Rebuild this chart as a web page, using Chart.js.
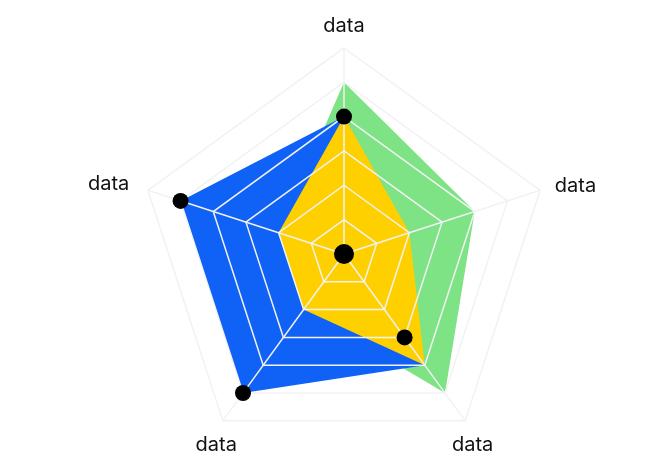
<!DOCTYPE html>
<html>
<head>
<meta charset="utf-8">
<script src="https://cdn.jsdelivr.net/npm/chart.js@4/dist/chart.umd.min.js"></script>
<style>
  html, body { margin: 0; padding: 0; background: #fff; overflow: hidden; }
  #wrap { width: 660px; height: 498px; position: relative; }
</style>
</head>
<body>
<div id="wrap"><canvas id="radarChart"></canvas></div>
<script>
const labels = ['data', 'data', 'data', 'data', 'data'];
const yellowValues = [4, 2, 4, 2, 2];
const blueValues = [4, 1, 4, 5, 5];
const greenValues = [5, 4, 5, 2, 2];
const dotValues = [4, 0, 3, 5, 5];
const dotSizes = [8, 10, 8, 8, 8];

// per-label nudges so the axis titles sit where the original has them
const labelPadding = [22, 15.5, -22.5, -24, 19.5];
const labelLineHeight = ['0px', '0px', '85px', '88px', '0px'];

const ctx = document.getElementById('radarChart').getContext('2d');
const chart = new Chart(ctx, {
    type: 'radar',
    data: {
        labels: labels,
        datasets: [
            {
                label: 'dots',
                data: dotValues,
                showLine: false,
                fill: false,
                pointRadius: dotSizes,
                pointHoverRadius: dotSizes,
                pointBackgroundColor: '#000',
                pointBorderWidth: 0
            },
            {
                label: 'yellow',
                data: yellowValues,
                fill: true,
                backgroundColor: '#ffd000',
                borderWidth: 0,
                pointRadius: 0
            },
            {
                label: 'blue',
                data: blueValues,
                fill: true,
                backgroundColor: '#0f62f5',
                borderWidth: 0,
                pointRadius: 0
            },
            {
                label: 'green',
                data: greenValues,
                fill: true,
                backgroundColor: '#7de384',
                borderWidth: 0,
                pointRadius: 0
            }
        ]
    },
    options: {
        responsive: true,
        maintainAspectRatio: false,
        animation: false,
        layout: {
            padding: { left: 86, right: 61, top: 18, bottom: 0 }
        },
        plugins: {
            legend: { display: false },
            tooltip: { enabled: false },
            filler: { drawTime: 'beforeDraw' }
        },
        scales: {
            r: {
                min: 0,
                max: 6,
                ticks: { display: false, stepSize: 1 },
                grid: { color: '#f2f2f2', lineWidth: 1.5 },
                angleLines: { color: '#f2f2f2', lineWidth: 1.5 },
                pointLabels: {
                    color: '#111',
                    padding: (c) => labelPadding[c.index],
                    font: (c) => ({ family: 'Inter', size: 20, lineHeight: labelLineHeight[c.index] })
                }
            }
        }
    }
});
</script>
</body>
</html>
